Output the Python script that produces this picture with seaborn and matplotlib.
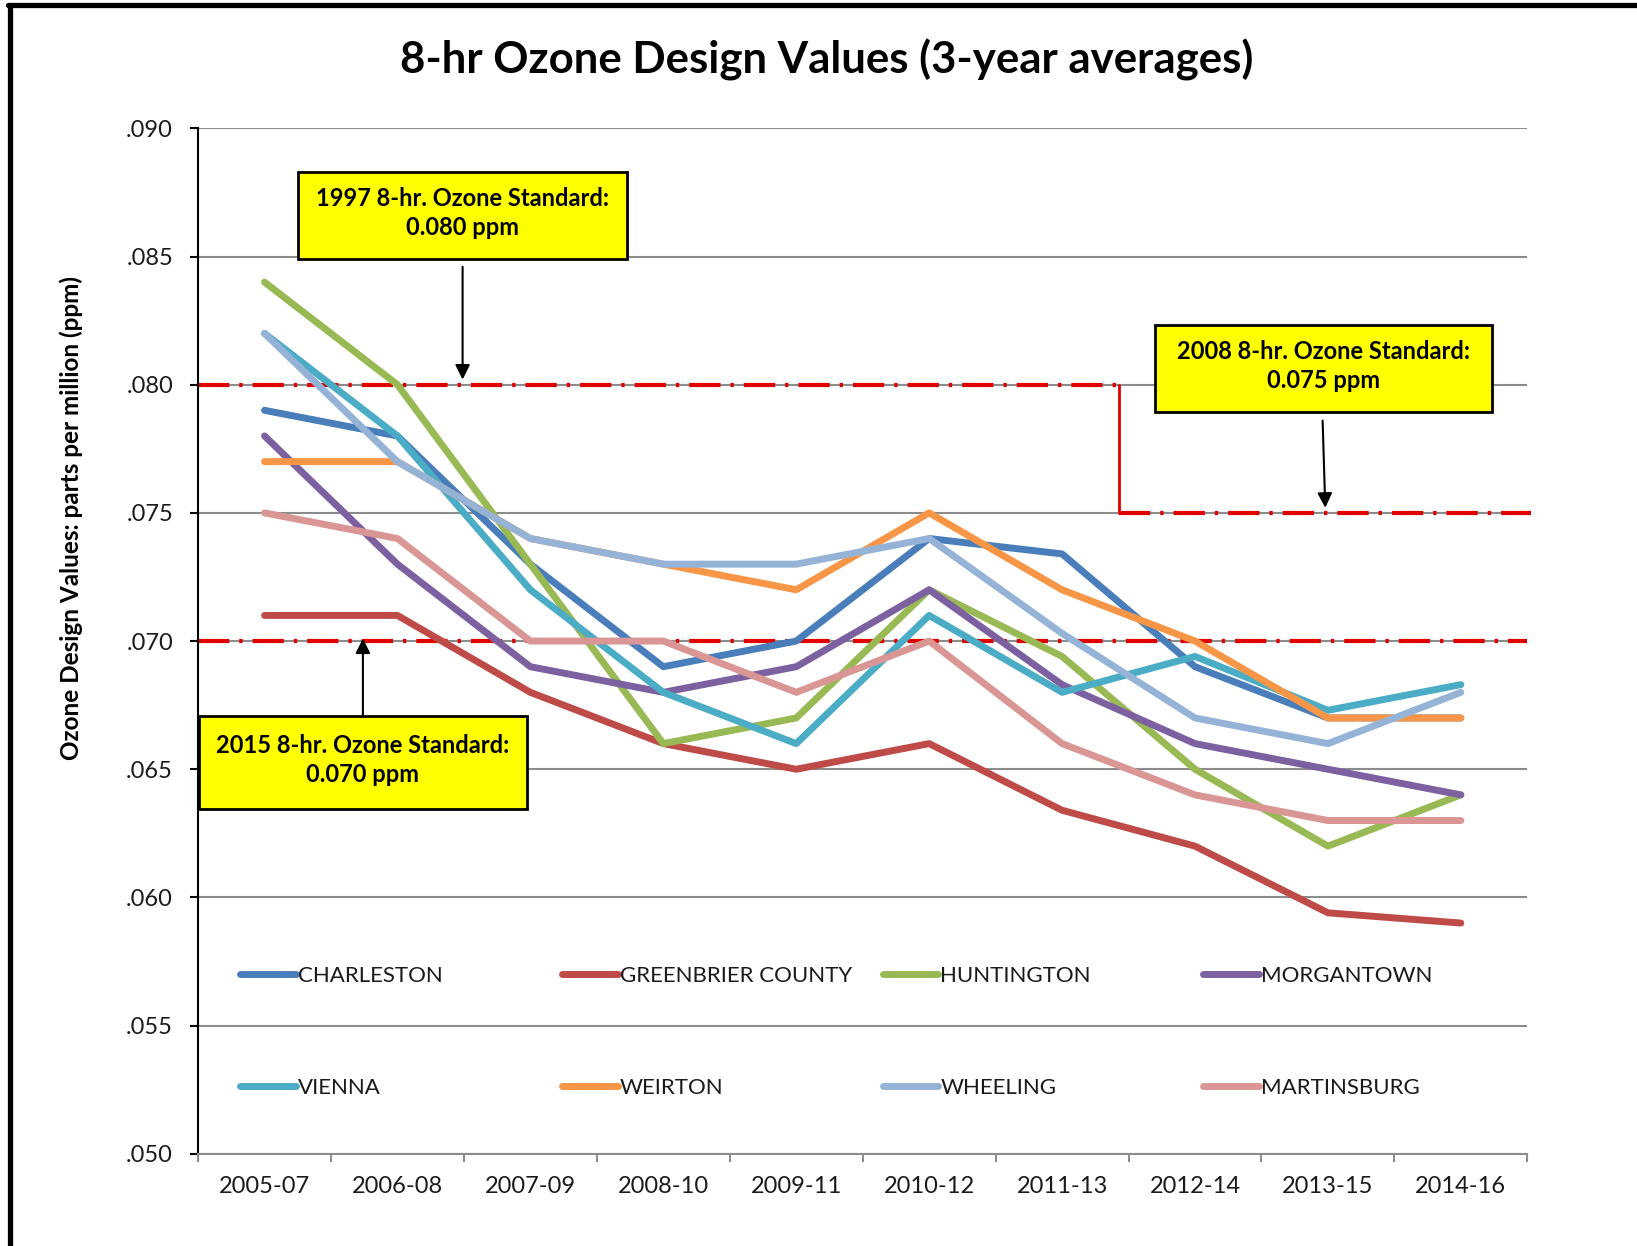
import matplotlib.pyplot as plt
import pandas as pd
import seaborn as sns
from matplotlib.lines import Line2D
from matplotlib.patches import Rectangle
from matplotlib.ticker import FixedLocator, FuncFormatter

# data (ppm, 3-year averages)
periods = ['2005-07', '2006-08', '2007-09', '2008-10', '2009-11',
           '2010-12', '2011-13', '2012-14', '2013-15', '2014-16']
charleston = [0.079, 0.078, 0.073, 0.069, 0.070, 0.074, 0.0734, 0.069, 0.067, 0.067]
greenbrier = [0.071, 0.071, 0.068, 0.066, 0.065, 0.066, 0.0634, 0.062, 0.0594, 0.059]
huntington = [0.084, 0.080, 0.073, 0.066, 0.067, 0.072, 0.0694, 0.065, 0.062, 0.064]
morgantown = [0.078, 0.073, 0.069, 0.068, 0.069, 0.072, 0.0683, 0.066, 0.065, 0.064]
vienna = [0.082, 0.078, 0.072, 0.068, 0.066, 0.071, 0.068, 0.0694, 0.0673, 0.0683]
weirton = [0.077, 0.077, 0.074, 0.073, 0.072, 0.075, 0.072, 0.070, 0.067, 0.067]
wheeling = [0.082, 0.077, 0.074, 0.073, 0.073, 0.074, 0.0703, 0.067, 0.066, 0.068]
martinsburg = [0.075, 0.074, 0.070, 0.070, 0.068, 0.070, 0.066, 0.064, 0.063, 0.063]

sites = ['CHARLESTON', 'GREENBRIER COUNTY', 'HUNTINGTON', 'MORGANTOWN',
         'VIENNA', 'WEIRTON', 'WHEELING', 'MARTINSBURG']
site_values = [charleston, greenbrier, huntington, morgantown,
               vienna, weirton, wheeling, martinsburg]
site_colors = ['#4A7EBB', '#BE4B48', '#98B954', '#7D60A0',
               '#4BACC6', '#F79646', '#95B3D7', '#D99694']

std_1997 = 0.080
std_2008 = 0.075
std_2015 = 0.070

df = pd.DataFrame([(s, p, v) for s, vals in zip(sites, site_values)
                   for p, v in zip(periods, vals)],
                  columns=['site', 'period', 'value'])

sns.set_style('white')
plt.rcParams['font.family'] = ['Lato', 'DejaVu Sans']
plt.rcParams['text.color'] = 'black'

fig = plt.figure(figsize=(16.37, 12.46), dpi=100)
ax = fig.add_axes([0.121, 0.074, 0.812, 0.823])

red = '#E00000'
dashdot = (0, (7.5, 2.4, 0.8, 2.4))
# standard lines (drawn under the data)
ax.plot([-0.5, 6.43], [std_1997, std_1997], color=red, lw=3, ls=dashdot, zorder=2)
ax.plot([6.43, 6.43], [std_1997, std_2008], color=red, lw=2, zorder=2)
ax.plot([6.43, 9.53], [std_2008, std_2008], color=red, lw=3, ls=dashdot,
        zorder=2, clip_on=False)
ax.plot([-0.5, 9.5], [std_2015, std_2015], color=red, lw=3, ls=dashdot, zorder=2)

n_before = len(ax.lines)
sns.lineplot(data=df, x='period', y='value', hue='site', hue_order=sites,
             palette=site_colors, sort=False, linewidth=5, legend=False, ax=ax,
             zorder=3)
for h in ax.lines[n_before:n_before + len(sites)]:
    h.set_solid_capstyle('round')

ax.set_xlim(-0.5, 9.5)
ax.set_ylim(0.050, 0.090)
ax.set_yticks([0.050, 0.055, 0.060, 0.065, 0.070, 0.075, 0.080, 0.085, 0.090])
ax.yaxis.set_major_formatter(FuncFormatter(lambda v, p: f'{v:.3f}'[1:]))
ax.set_xticks(range(len(periods)))
ax.set_xticklabels(periods)
ax.xaxis.set_minor_locator(FixedLocator([i - 0.5 for i in range(len(periods) + 1)]))
ax.tick_params(axis='x', which='major', length=0, pad=16, labelsize=17, labelcolor='#1a1a1a')
ax.tick_params(axis='x', which='minor', length=6, width=1.5, color='#8c8c8c', bottom=True)
ax.tick_params(axis='y', length=6, width=1.5, color='black', pad=12,
               labelsize=17, labelcolor='#1a1a1a', left=True)
ax.set_xlabel('')
ax.set_ylabel('')
ax.yaxis.grid(True, color='#8c8c8c', lw=1.5)
ax.set_axisbelow(True)
for s in ['top', 'right']:
    ax.spines[s].set_visible(False)
ax.spines['left'].set_color('black')
ax.spines['left'].set_linewidth(1.5)
ax.spines['bottom'].set_color('#8c8c8c')
ax.spines['bottom'].set_linewidth(1.5)

# annotation boxes
boxes = [
    ((0.2515, 0.08491), 2.4765, 0.00338, '1997 8-hr. Ozone Standard:\n0.080 ppm'),
    ((6.697, 0.07892), 2.539, 0.00342, '2008 8-hr. Ozone Standard:\n0.075 ppm'),
    ((-0.495, 0.06344), 2.468, 0.00363, '2015 8-hr. Ozone Standard:\n0.070 ppm'),
]
for (x0, y0), w, h, txt in boxes:
    ax.add_patch(Rectangle((x0, y0), w, h, facecolor='#FFFF00', edgecolor='black',
                           lw=2, zorder=5, clip_on=False))
    ax.text(x0 + w / 2, y0 + h / 2 + 0.0001, txt, ha='center', va='center',
            fontsize=17, fontweight='bold', linespacing=1.3, zorder=6)

arrows = [((1.49, 0.0846), (1.49, 0.0802)),
          ((7.96, 0.0786), (7.98, 0.0752)),
          ((0.74, 0.0671), (0.74, 0.0701))]
for start, end in arrows:
    ax.annotate('', xy=end, xytext=start,
                arrowprops=dict(arrowstyle='-|>', color='black', lw=1.5,
                                mutation_scale=22, shrinkA=0, shrinkB=0), zorder=6)

# legend: 4 columns of 2 entries each
col_x = [0.0316, 0.274, 0.515, 0.756]
legends = []
for i, cx in enumerate(col_x):
    hs = [Line2D([], [], color=site_colors[j], lw=5, solid_capstyle='round') for j in (i, i + 4)]
    leg = ax.legend(hs, [sites[i], sites[i + 4]], loc='center left',
                    bbox_to_anchor=(cx, 0.119), frameon=False, fontsize=16,
                    handlelength=2.5, handletextpad=0.1, labelspacing=4.15,
                    borderpad=0, borderaxespad=0)
    for t in leg.get_texts():
        t.set_color('#1a1a1a')
    legends.append(leg)
for leg in legends[:-1]:
    ax.add_artist(leg)

fig.text(0.505, 0.952, '8-hr Ozone Design Values (3-year averages)', ha='center',
         va='center', fontsize=31.5, fontweight='bold', color='black')
fig.text(0.0434, 0.584, 'Ozone Design Values: parts per million (ppm)', rotation=90,
         ha='center', va='center', fontsize=17.5, fontweight='bold', color='black')

# outer frame (top and left edges)
fig.add_artist(Line2D([0.005, 1.0], [0.9956, 0.9956], color='black', lw=3.8,
                      transform=fig.transFigure))
fig.add_artist(Line2D([0.0064, 0.0064], [0.0, 0.9956], color='black', lw=3.8,
                      transform=fig.transFigure))

fig.savefig('out.png', dpi=100)
